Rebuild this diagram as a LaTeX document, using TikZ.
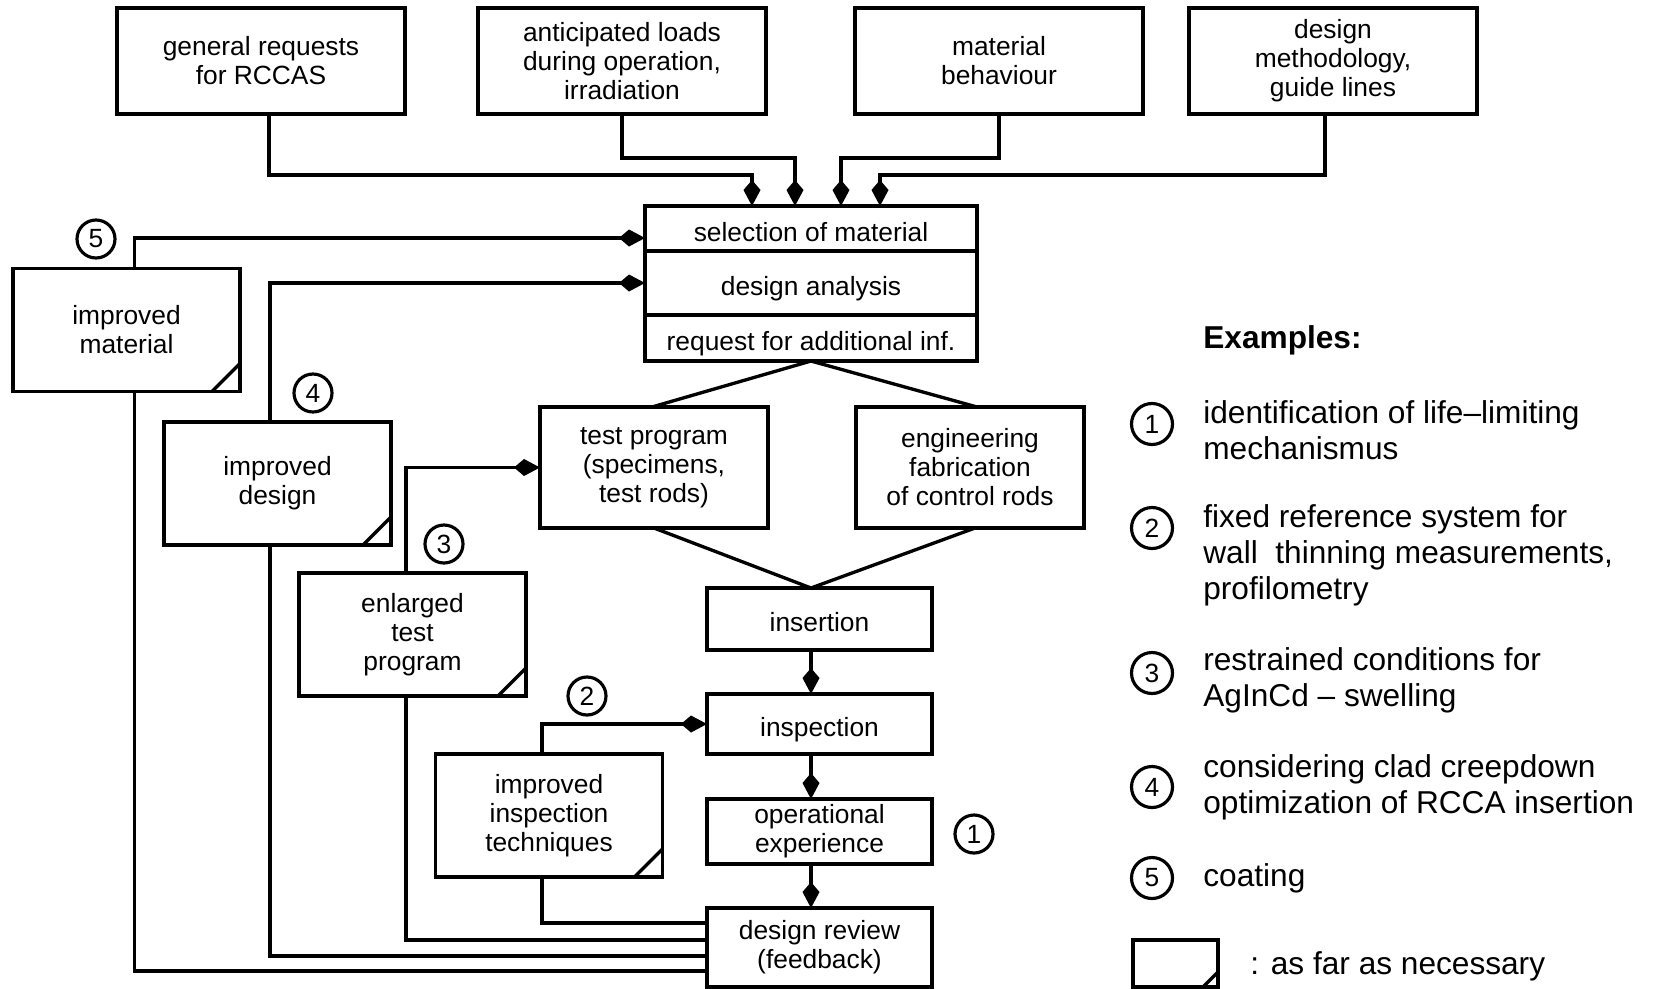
\documentclass[tikz,border=0pt]{standalone}
\usepackage{fontspec}
\setmainfont{Liberation Sans}
\usetikzlibrary{arrows.meta,positioning,calc}
\newcommand{\boxfont}{\fontsize{15}{16.5}\selectfont}
\newcommand{\legfont}{\fontsize{18}{20.5}\selectfont}

\begin{document}
\begin{tikzpicture}[
    x=0.2mm, y=-0.2mm,
    box/.style      = {rectangle, draw, line width=1.9pt, fill=white, align=center,
                       inner sep=1pt, outer sep=0pt, font=\boxfont},
    oneline/.style  = {text height=6.2mm, text depth=1.2mm},
    topbox/.style   = {box, minimum width=57.6mm, minimum height=21.2mm},
    flowbox/.style  = {box, minimum width=45mm},
    notebox/.style  = {box, minimum width=45.4mm, minimum height=24.6mm,
                       path picture={\draw[line width=1.9pt]
                         ([xshift=-#1]path picture bounding box.south east) --
                         ([yshift=#1]path picture bounding box.south east);}},
    notebox/.default= 5.6mm,
    num/.style      = {circle, draw, line width=1.8pt, minimum size=7.6mm,
                       inner sep=0pt, font=\boxfont},
    line/.style     = {line width=1.9pt},
    arr/.style      = {line, -{Kite[length=5.2mm,width=3.4mm,inset=2mm]}},
    legtext/.style  = {anchor=west, align=left, inner sep=0pt, font=\legfont}
  ]
    \useasboundingbox (0,0) rectangle (1656,988);

    % inputs
    \node[topbox] (req)    at (261,61)  {general requests\\for RCCAS};
    \node[topbox] (loads)  at (622,61)  {anticipated loads\\during operation,\\irradiation};
    \node[topbox] (behav)  at (999,61)  {material\\behaviour};
    \node[topbox] (method) at (1333,61) {design\\methodology,\\guide lines};

    % main chain
    \node[box, oneline, minimum width=66.4mm, minimum height=9mm] (sel) at (811,228.5) {selection of material};
    \node[box, oneline, minimum width=66.4mm, minimum height=12.8mm, below=0pt of sel] (ana) {design analysis};
    \node[box, oneline, minimum width=66.4mm, minimum height=9.2mm, below=0pt of ana] (reqinf) {request for additional inf.};

    \node[flowbox, minimum width=45.6mm, minimum height=24.2mm] (test) at (654,467.5) {test program\\(specimens,\\test rods)};
    \node[flowbox, minimum width=45.6mm, minimum height=24.2mm] (eng)  at (970,467.5) {engineering\\fabrication\\of control rods};

    \node[flowbox, oneline, minimum height=12.4mm] (ins)  at (819.5,619) {insertion};
    \node[flowbox, oneline, minimum height=12mm]   (insp) at (819.5,724) {inspection};
    \node[flowbox, minimum height=13mm]   (oper)   at (819.5,831.5) {operational\\experience};
    \node[flowbox, minimum height=15.8mm] (review) at (819.5,947.5) {design review\\(feedback)};

    % feedback boxes
    \node[notebox] (imat)  at (126.5,330)   {improved\\material};
    \node[notebox] (ides)  at (277.5,483.5) {improved\\design};
    \node[notebox] (etest) at (412.5,634.5) {enlarged\\test\\program};
    \node[notebox] (iinsp) at (549,815.5)   {improved\\inspection\\techniques};

    \node[num] (n5) at (96,239)  {5};
    \node[num] (n4) at (313,393) {4};
    \node[num] (n3) at (444,544) {3};
    \node[num] (n2) at (587,696) {2};
    \node[num] (n1) at (974,834) {1};

    \draw[arr] ([xshift=1.6mm]req.south) -- ++(0,61) -| ([xshift=-11.8mm]sel.north);
    \draw[arr] (loads.south) -- ++(0,44) -| ([xshift=-3.2mm]sel.north);
    \draw[arr] (behav.south) -- ++(0,44) -| ([xshift=6mm]sel.north);
    \draw[arr] ([xshift=-1.6mm]method.south) -- ++(0,61) -| ([xshift=13.8mm]sel.north);

    \draw[line] ([xshift=-0.4mm]test.north) -- (reqinf.south) -- ([xshift=1.4mm]eng.north);
    \draw[line] (test.south) -- (ins.north -| reqinf.south) -- ([xshift=1mm]eng.south);

    \draw[arr] (ins.south -| reqinf.south)  -- (insp.north -| reqinf.south);
    \draw[arr] (insp.south -| reqinf.south) -- (oper.north -| reqinf.south);
    \draw[arr] (oper.south -| reqinf.south) -- (review.north -| reqinf.south);

    \draw[arr]  ([xshift=1.6mm]imat.north)   |- ([yshift=-1.9mm]sel.west);
    \draw[line] ([xshift=1.6mm]imat.south)   |- ([yshift=-4.7mm]review.west);
    \draw[arr]  ([xshift=-1.5mm]ides.north)  |- (ana.west);
    \draw[line] ([xshift=-1.5mm]ides.south)  |- ([yshift=-1.7mm]review.west);
    \draw[arr]  ([xshift=-1.3mm]etest.north) |- (test.west);
    \draw[line] ([xshift=-1.3mm]etest.south) |- ([yshift=1.5mm]review.west);
    \draw[arr]  ([xshift=-1.4mm]iinsp.north) |- (insp.west);
    \draw[line] ([xshift=-1.4mm]iinsp.south) |- ([yshift=4.9mm]review.west);

    % legend
    \node[font=\legfont\bfseries, anchor=west, inner sep=0pt] (examples) at (1203,340) {Examples:};
    \node[num, minimum size=8.2mm] (l1) at (1152,424) {1};
    \node[legtext] (t1) at (1203,430) {identification of life–limiting\\mechanismus};
    \node[num, minimum size=8.2mm] (l2) at (1152,528) {2};
    \node[legtext] (t2) at (1203,555) {fixed reference system for\\wall\ \ thinning measurements,\\profilometry};
    \node[num, minimum size=8.2mm] (l3) at (1152,673) {3};
    \node[legtext] (t3) at (1203,680.5) {restrained conditions for\\AgInCd – swelling};
    \node[num, minimum size=8.2mm] (l4) at (1152,787) {4};
    \node[legtext] (t4) at (1203,787) {considering clad creepdown\\optimization of RCCA insertion};
    \node[num, minimum size=8.2mm] (l5) at (1152,878) {5};
    \node[legtext] (t5) at (1203,878) {coating};
    \node[notebox=3mm, minimum width=17mm, minimum height=9.4mm] (legbox) at (1175.5,963.5) {};
    \node[legtext] (tleg) at (1250,966) {: as far as necessary};
  \end{tikzpicture}
\end{document}
